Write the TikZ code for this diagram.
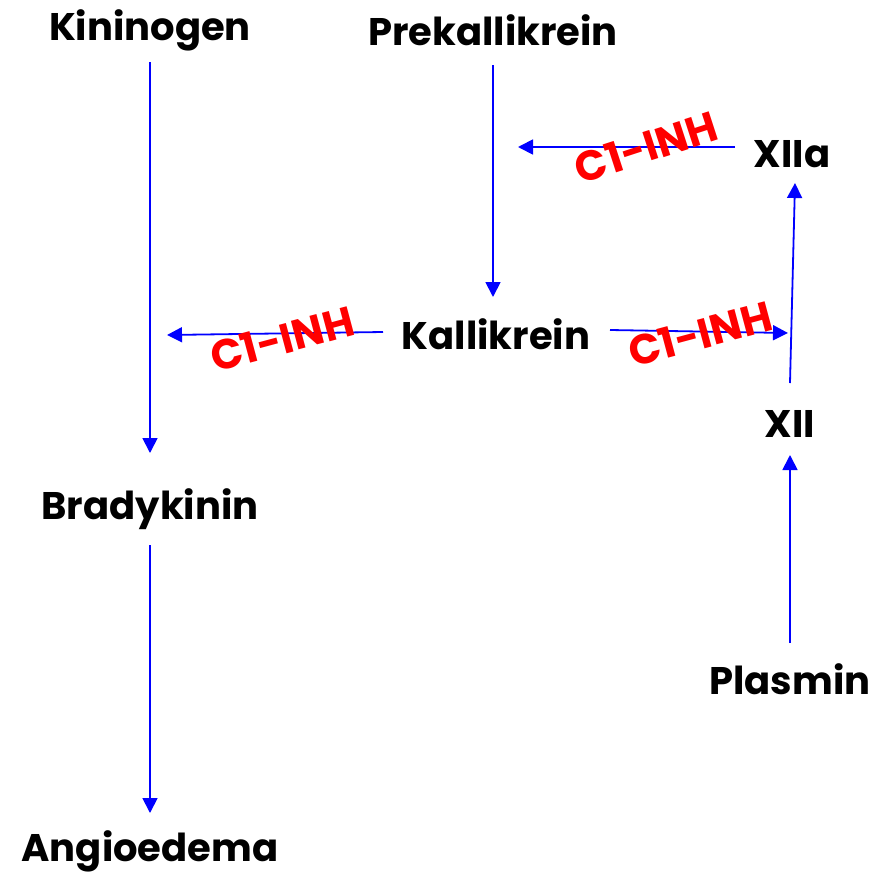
\documentclass[tikz,border=0pt]{standalone}
\usepackage{fontspec}
\setmainfont{Poppins}
\usetikzlibrary{arrows.meta}
\definecolor{arrblue}{RGB}{0,0,255}
\definecolor{inhred}{RGB}{255,0,0}
\tikzset{
  lbl/.style={font=\fontsize{38.5}{38.5}\selectfont\bfseries, inner sep=0pt, anchor=center},
  inh/.style={font=\fontsize{42}{42}\selectfont\bfseries, text=inhred, inner sep=0pt, anchor=center},
  arr/.style={draw=arrblue, line width=1.8pt, -{Triangle[length=15pt,width=15pt]}},
}
\begin{document}
\begin{tikzpicture}[x=1pt,y=-1pt]
\useasboundingbox (0,0) rectangle (872,876);
\node[lbl] (kin) at (150,30) {Kininogen};
\node[lbl] (prek) at (493,30) {Prekallikrein};
\node[lbl] (xiia) at (792,154) {XIIa};
\node[lbl] (kall) at (496,334) {Kallikrein};
\node[lbl] (xii) at (790,424) {XII};
\node[lbl] (brady) at (150,509) {Bradykinin};
\node[lbl] (plas) at (790,679) {Plasmin};
\node[lbl] (angio) at (150,851) {Angioedema};
% free ends
\coordinate (kinS) at (150,62);
\coordinate (kinE) at (150,453);
\coordinate (brS) at (150,545);
\coordinate (brE) at (150,813);
\coordinate (prS) at (493,65);
\coordinate (prE) at (493,297);
\coordinate (xaS) at (735,147);
\coordinate (xaE) at (518,147);
\coordinate (klS) at (383,332);
\coordinate (klE) at (167,335);
\coordinate (krS) at (610,330);
\coordinate (krE) at (788,333);
\coordinate (xS) at (790,383);
\coordinate (xE) at (795,183);
\coordinate (pS) at (790,643);
\coordinate (pE) at (790,455);
\draw[arr] (kinS) -- (kinE);
\draw[arr] (brS) -- (brE);
\draw[arr] (prS) -- (prE);
\draw[arr] (xaS) -- (xaE);
\draw[arr] (klS) -- (klE);
\draw[arr] (krS) -- (krE);
\draw[arr] (xS) -- (xE);
\draw[arr] (pS) -- (pE);
\node[inh, rotate=18] (inh1) at (646,147) {C1-INH};
\node[inh, rotate=15] (inh2) at (282,339) {C1-INH};
\node[inh, rotate=15] (inh3) at (700,334) {C1-INH};
\end{tikzpicture}
\end{document}
